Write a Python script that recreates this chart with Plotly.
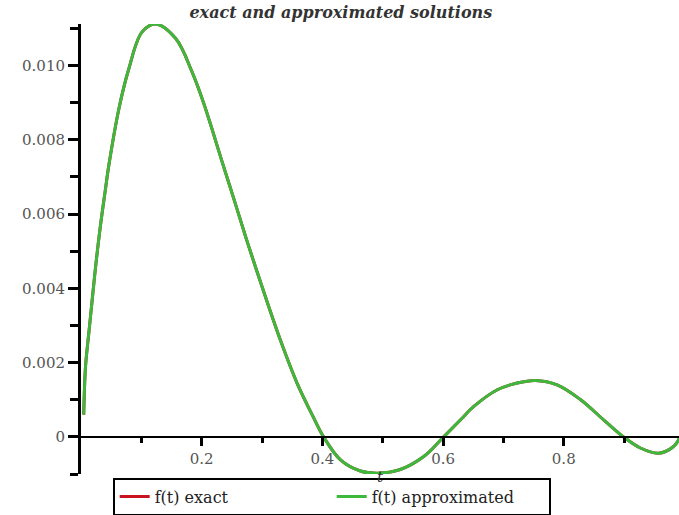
import plotly.graph_objects as go

# ---- data ----
t_values = [0.0045, 0.0075, 0.013, 0.0186, 0.025, 0.0323, 0.0406, 0.046, 0.063, 0.079,
            0.101, 0.1235, 0.157, 0.184, 0.2035, 0.235, 0.2535, 0.274, 0.303,
            0.331, 0.358, 0.386, 0.402, 0.430, 0.463, 0.491, 0.529, 0.568, 0.601,
            0.629, 0.651, 0.690, 0.723, 0.753, 0.789, 0.828, 0.866, 0.899, 0.927,
            0.957, 0.982, 0.992]
f_exact = [0.0006, 0.0019, 0.0028, 0.0037, 0.0047, 0.0057, 0.00668, 0.0073, 0.00885, 0.0099,
           0.0109, 0.01112, 0.01073, 0.00983, 0.00898, 0.00735, 0.0064, 0.00533, 0.0039,
           0.00258, 0.00145, 0.0005, 0.0, -0.00062, -0.00092, -0.00098, -0.00088, -0.00053, 0.0,
           0.00046, 0.00082, 0.00127, 0.00145, 0.00152, 0.0014, 0.001, 0.00046, 0.0, -0.0003,
           -0.00044, -0.00026, -0.00003]
f_approx = [0.0006, 0.0019, 0.0028, 0.0037, 0.0047, 0.0057, 0.00668, 0.0073, 0.00885, 0.0099,
            0.0109, 0.01112, 0.01073, 0.00983, 0.00898, 0.00735, 0.0064, 0.00533, 0.0039,
            0.00258, 0.00145, 0.0005, 0.0, -0.00062, -0.00092, -0.00098, -0.00088, -0.00053, 0.0,
            0.00046, 0.00082, 0.00127, 0.00145, 0.00152, 0.0014, 0.001, 0.00046, 0.0, -0.0003,
            -0.00044, -0.00026, -0.00003]

x_tick_vals = [0.2, 0.4, 0.6, 0.8]
x_tick_text = ["0.2", "0.4", "0.6", "0.8"]
x_minor_vals = [0.1, 0.3, 0.5, 0.7, 0.9]
y_tick_vals = [0, 0.002, 0.004, 0.006, 0.008, 0.010]
y_tick_text = ["0", "0.002", "0.004", "0.006", "0.008", "0.010"]
y_minor_vals = [-0.001, 0.001, 0.003, 0.005, 0.007, 0.009, 0.011]

x_range = [0.0, 0.991]
y_range = [-0.001, 0.01112]

SERIF = "DejaVu Serif"

fig = go.Figure()
fig.add_trace(go.Scatter(x=t_values, y=f_exact, mode="lines", name="f(t) exact",
                         line=dict(color="#c8141e", width=3, shape="spline", smoothing=1.0)))
fig.add_trace(go.Scatter(x=t_values, y=f_approx, mode="lines", name="f(t) approximated",
                         line=dict(color="#3cb83c", width=3, shape="spline", smoothing=1.0)))

zero_pos = (0 - y_range[0]) / (y_range[1] - y_range[0])

fig.update_layout(
    width=679, height=515,
    margin=dict(l=81, r=0, t=24, b=41, autoexpand=False),
    paper_bgcolor="white", plot_bgcolor="white",
    title=dict(text="<b><i>exact and approximated solutions</i></b>",
               x=0.502, xanchor="center", xref="container",
               y=1 - 12 / 515, yanchor="middle", yref="container",
               font=dict(family=SERIF, size=16, color="#333")),
    xaxis=dict(range=x_range, anchor="free", position=zero_pos, automargin=False,
               showgrid=False, zeroline=False,
               showline=True, linecolor="black", linewidth=1.5,
               tickmode="array", tickvals=x_tick_vals, ticktext=x_tick_text,
               ticks="outside", ticklen=8, tickwidth=2.5, tickcolor="black",
               minor=dict(tickmode="array", tickvals=x_minor_vals, ticks="outside",
                          ticklen=5, tickwidth=2.5, tickcolor="black", showgrid=False),
               tickfont=dict(family=SERIF, size=15, color="#555"),
               title=dict(text="<i>t</i>", standoff=4,
                          font=dict(family=SERIF, size=15, color="#333"))),
    yaxis=dict(range=y_range, automargin=False, showgrid=False, zeroline=False,
               showline=True, linecolor="black", linewidth=3,
               tickmode="array", tickvals=y_tick_vals, ticktext=y_tick_text,
               ticks="outside", ticklen=10, tickwidth=2.5, tickcolor="black",
               minor=dict(tickmode="array", tickvals=y_minor_vals, ticks="outside",
                          ticklen=8, tickwidth=2.5, tickcolor="black", showgrid=False),
               tickfont=dict(family=SERIF, size=15, color="#555")),
    legend=dict(orientation="h", x=0.053, xanchor="left", y=-0.008, yanchor="top",
                bgcolor="white", bordercolor="black", borderwidth=2,
                entrywidth=172, entrywidthmode="pixels",
                font=dict(family=SERIF, size=16, color="#222"),
                tracegroupgap=0),
    showlegend=True,
)

fig.write_html("out.html",
               config={"displayModeBar": False},
               post_script="document.body.style.margin='0';document.body.style.overflow='hidden';")
